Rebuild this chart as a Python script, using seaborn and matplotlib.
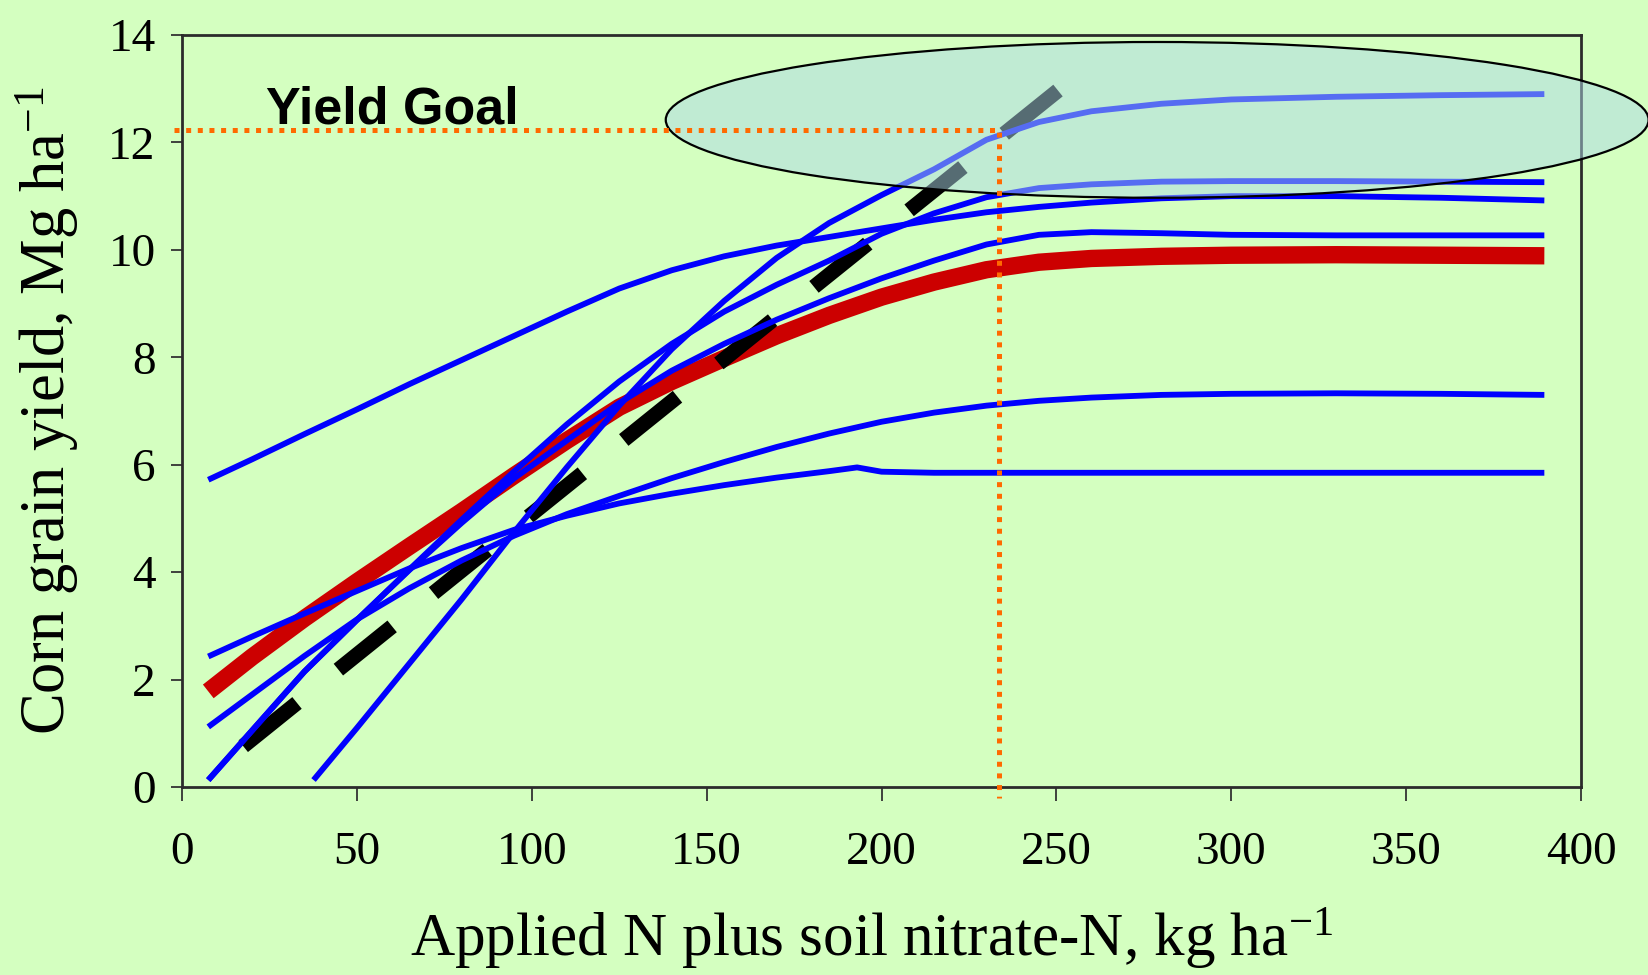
import matplotlib
matplotlib.use("Agg")
import matplotlib.pyplot as plt
from matplotlib.patches import Ellipse
import seaborn as sns

# ------------------------------------------------------
# Values (N in kg/ha, yield in Mg/ha)
# ------------------------------------------------------
n_rate = [7.5, 20, 35, 50, 65, 80, 95, 110, 125, 140, 155, 170, 185,
          200, 215, 230, 245, 260, 280, 300, 330, 360, 389.5]

# blue response curves (one per site-year)
yield_high_start = [5.72, 6.10, 6.57, 7.03, 7.50, 7.95, 8.40, 8.85, 9.28, 9.62, 9.88, 10.08, 10.24,
                    10.40, 10.56, 10.70, 10.80, 10.88, 10.96, 11.00, 11.00, 10.97, 10.92]
yield_to_11 = [0.13, 1.05, 2.15, 3.11, 4.05, 4.98, 5.88, 6.75, 7.55, 8.25, 8.85, 9.35, 9.80,
               10.30, 10.68, 10.98, 11.15, 11.22, 11.27, 11.28, 11.28, 11.27, 11.26]
yield_to_10 = [0.13, 1.05, 2.15, 3.11, 4.04, 4.92, 5.75, 6.45, 7.15, 7.75, 8.25, 8.70, 9.10,
               9.47, 9.80, 10.10, 10.28, 10.33, 10.31, 10.28, 10.27, 10.27, 10.27]
yield_to_7 = [1.12, 1.72, 2.44, 3.12, 3.70, 4.22, 4.68, 5.08, 5.42, 5.75, 6.05, 6.33, 6.58,
              6.80, 6.97, 7.10, 7.19, 7.25, 7.30, 7.32, 7.33, 7.32, 7.30]

n_rate_low = [7.5, 20, 35, 50, 65, 80, 95, 110, 125, 140, 155, 170, 185, 193,
              200, 215, 245, 280, 330, 389.5]
yield_to_6 = [2.43, 2.80, 3.23, 3.65, 4.07, 4.45, 4.79, 5.05, 5.28, 5.46, 5.62, 5.76, 5.88, 5.95,
              5.87, 5.85, 5.85, 5.85, 5.85, 5.85]

n_rate_late = [37.6, 50, 65, 80, 95, 110, 125, 140, 155, 170, 185, 200, 215, 230, 245,
               260, 280, 300, 330, 360, 389.5]
yield_to_13 = [0.13, 1.10, 2.30, 3.50, 4.75, 5.95, 7.10, 8.15, 9.05, 9.85, 10.50, 11.02, 11.50,
               12.05, 12.38, 12.58, 12.72, 12.80, 12.85, 12.88, 12.90]

# average response (red)
yield_mean = [1.78, 2.42, 3.14, 3.82, 4.48, 5.13, 5.80, 6.45, 7.07, 7.55, 7.98, 8.40, 8.78,
              9.12, 9.40, 9.63, 9.77, 9.84, 9.88, 9.90, 9.91, 9.90, 9.89]

# linear (yield-goal based) recommendation, dashed
linear_n = [17.5, 253]
linear_yield = [0.76, 13.1]

# yield goal guide lines
goal_n = 233.6
goal_yield = 12.24

BG = "#D4FFC0"

sns.set_style("ticks")
plt.rcParams["font.family"] = ["Liberation Serif", "DejaVu Serif"]
plt.rcParams["mathtext.fontset"] = "custom"
plt.rcParams["mathtext.rm"] = "Liberation Serif"
plt.rcParams["mathtext.it"] = "Liberation Serif:italic"
plt.rcParams["mathtext.bf"] = "Liberation Serif:bold"

fig = plt.figure(figsize=(16.49, 9.75), dpi=100, facecolor=BG)
ax = fig.add_axes([0.1104, 0.1928, 0.8484, 0.7713])
ax.set_facecolor(BG)

blue_curves = [
    (n_rate, yield_high_start),
    (n_rate, yield_to_11),
    (n_rate, yield_to_10),
    (n_rate, yield_to_7),
    (n_rate_low, yield_to_6),
    (n_rate_late, yield_to_13),
]

# red mean curve sits below everything else
sns.lineplot(x=n_rate, y=yield_mean, ax=ax, color="#CC0000", lw=12.5,
             estimator=None, sort=False, solid_capstyle="butt", zorder=2)

sns.lineplot(x=linear_n, y=linear_yield, ax=ax, color="black", lw=10.8,
             linestyle=(0, (4.6, 3.54)), estimator=None, sort=False,
             dash_capstyle="butt", zorder=3)

for xs, ys in blue_curves:
    sns.lineplot(x=xs, y=ys, ax=ax, color="#0000FF", lw=4.2,
                 estimator=None, sort=False, solid_capstyle="butt", zorder=4)

# translucent ellipse over the high-yield region
ell = Ellipse((278.8, 12.42), 281, 2.9, facecolor=(173 / 255, 216 / 255, 230 / 255, 0.5),
              edgecolor="black", lw=1.6, clip_on=False, zorder=5)
ax.add_patch(ell)

sns.lineplot(x=[-2.3, goal_n, goal_n], y=[goal_yield, goal_yield, -0.2], ax=ax,
             color="#FF6A00", lw=3.6, linestyle=(0, (1, 1.33)), estimator=None,
             sort=False, dash_capstyle="butt", clip_on=False, zorder=6)

ax.text(24, 12.36, "Yield Goal", fontsize=37.5, fontweight="bold", color="black",
        family=["Liberation Sans", "DejaVu Sans"], ha="left", va="baseline", zorder=7)

ax.set_xlim(0, 400)
ax.set_ylim(0, 14)
ax.set_xticks(range(0, 401, 50))
ax.set_yticks(range(0, 15, 2))

for side in ["top", "bottom", "left", "right"]:
    ax.spines[side].set_visible(True)
    ax.spines[side].set_color("#2b2b2b")
    ax.spines[side].set_linewidth(2)

ax.tick_params(axis="x", direction="out", length=10, width=1.3, pad=22,
               labelsize=34, color="#333333", labelcolor="black")
ax.tick_params(axis="y", direction="out", length=8, width=1.3, pad=11,
               labelsize=34, color="#333333", labelcolor="black")

ax.set_ylabel("Corn grain yield, Mg ha$^{\\mathrm{-1}}$", fontsize=45, va="center", color="black")
ax.yaxis.set_label_coords(-0.0965, 0.5)
ax.set_xlabel("Applied N plus soil nitrate-N, kg ha$^{\\mathrm{-1}}$", fontsize=44, va="center",
              color="black")
ax.xaxis.set_label_coords(0.4925, -0.202)

fig.savefig("out.png", dpi=100, facecolor=BG)
